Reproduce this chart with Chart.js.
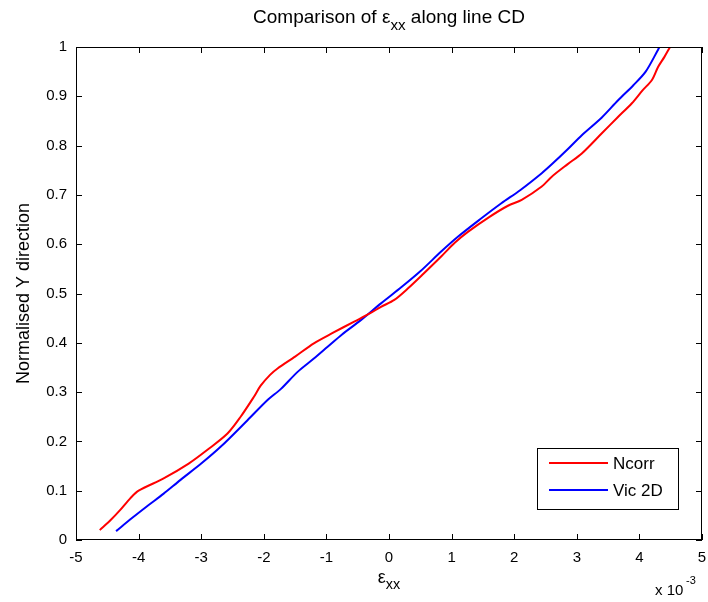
<!DOCTYPE html>
<html>
<head>
<meta charset="utf-8">
<script src="https://cdn.jsdelivr.net/npm/chart.js@4.4.0/dist/chart.umd.min.js"></script>
<style>
  body { margin: 0; background: #fff; }
  canvas { display: block; }
</style>
</head>
<body>
<canvas id="strainChart" width="708" height="602"></canvas>
<script>
// strain values are in units of 1e-3
const ncorrX = [-4.62, -4.45, -4.3, -4.13, -4.0, -3.6, -3.2, -2.9, -2.58, -2.37, -2.16, -2.05, -1.9, -1.78, -1.5, -1.2, -0.9, -0.556, -0.3, -0.128, 0.085, 0.3, 0.55, 0.833, 1.05, 1.26, 1.6, 1.9, 2.12, 2.44, 2.6, 2.85, 3.08, 3.4, 3.65, 3.88, 4.05, 4.2, 4.3, 4.4, 4.49];
const ncorrY = [0.02, 0.04, 0.06, 0.085, 0.1, 0.125, 0.155, 0.183, 0.216, 0.25, 0.29, 0.313, 0.335, 0.348, 0.372, 0.399, 0.42, 0.443, 0.46, 0.473, 0.487, 0.51, 0.54, 0.575, 0.603, 0.625, 0.655, 0.678, 0.69, 0.717, 0.737, 0.762, 0.784, 0.825, 0.857, 0.886, 0.912, 0.933, 0.96, 0.98, 1.0];

const vicX = [-4.36, -4.1, -3.87, -3.6, -3.33, -3.0, -2.69, -2.26, -1.94, -1.73, -1.46, -1.2, -0.98, -0.75, -0.45, -0.128, 0.2, 0.5, 0.833, 1.1, 1.45, 1.795, 2.1, 2.44, 2.6, 2.85, 3.08, 3.4, 3.66, 3.9, 4.1, 4.3, 4.32];
const vicY = [0.018, 0.045, 0.068, 0.094, 0.122, 0.155, 0.189, 0.243, 0.284, 0.306, 0.341, 0.368, 0.392, 0.417, 0.446, 0.48, 0.513, 0.545, 0.585, 0.615, 0.65, 0.683, 0.71, 0.744, 0.762, 0.792, 0.821, 0.857, 0.892, 0.922, 0.95, 0.995, 1.0];

const xTicks = [-5, -4, -3, -2, -1, 0, 1, 2, 3, 4, 5];
const yTicks = [0, 0.1, 0.2, 0.3, 0.4, 0.5, 0.6, 0.7, 0.8, 0.9, 1];
const seriesNames = ["Ncorr", "Vic 2D"];
const seriesColors = ["#ff0000", "#0000ff"];

const FONT = "'Liberation Sans', Arial, sans-serif";

function toPoints(xs, ys) {
  return xs.map((x, i) => ({ x: x, y: ys[i] }));
}

// text with a subscript part, e.g. ε + "xx"
function drawSubText(ctx, parts, cx, cy, size) {
  ctx.save();
  let total = 0;
  parts.forEach((p) => {
    ctx.font = (p.sub ? size * 0.8 : size) + "px " + FONT;
    total += ctx.measureText(p.t).width;
  });
  let x = cx - total / 2;
  ctx.textAlign = "left";
  ctx.textBaseline = "alphabetic";
  parts.forEach((p) => {
    ctx.font = (p.sub ? size * 0.8 : size) + "px " + FONT;
    ctx.fillText(p.t, x, cy + (p.sub ? size * 0.35 : 0));
    x += ctx.measureText(p.t).width;
  });
  ctx.restore();
}

const matlabFrame = {
  id: "matlabFrame",
  afterDraw(chart) {
    const ctx = chart.ctx;
    const a = chart.chartArea;
    const xs = chart.scales.x;
    const ys = chart.scales.y;
    ctx.save();
    ctx.strokeStyle = "#000";
    ctx.lineWidth = 1;
    ctx.strokeRect(a.left + 0.5, a.top + 0.5, a.right - a.left - 1, a.bottom - a.top - 1);

    // inward tick marks on all four sides
    ctx.beginPath();
    xTicks.forEach((v) => {
      const px = Math.round(xs.getPixelForValue(v)) + 0.5;
      ctx.moveTo(px, a.bottom);
      ctx.lineTo(px, a.bottom - 6);
      ctx.moveTo(px, a.top);
      ctx.lineTo(px, a.top + 6);
    });
    yTicks.forEach((v) => {
      const py = Math.round(ys.getPixelForValue(v)) + 0.5;
      ctx.moveTo(a.left, py);
      ctx.lineTo(a.left + 6, py);
      ctx.moveTo(a.right, py);
      ctx.lineTo(a.right - 6, py);
    });
    ctx.stroke();

    // title and axis labels
    ctx.fillStyle = "#000";
    const cx = (a.left + a.right) / 2;
    drawSubText(ctx, [{ t: "Comparison of ε" }, { t: "xx", sub: true }, { t: " along line CD" }], cx, 23, 19);
    drawSubText(ctx, [{ t: "ε" }, { t: "xx", sub: true }], cx, 583, 18);

    ctx.font = "15px " + FONT;
    ctx.textAlign = "left";
    ctx.fillText("x 10", 655, 595);
    ctx.font = "11px " + FONT;
    ctx.fillText("-3", 686, 584);

    ctx.save();
    ctx.translate(29, (a.top + a.bottom) / 2);
    ctx.rotate(-Math.PI / 2);
    ctx.font = "18px " + FONT;
    ctx.textAlign = "center";
    ctx.fillText("Normalised Y direction", 0, 0);
    ctx.restore();

    // legend box
    const lx = 537, ly = 448, lw = 141, lh = 61;
    ctx.fillStyle = "#fff";
    ctx.fillRect(lx, ly, lw, lh);
    ctx.strokeStyle = "#000";
    ctx.strokeRect(lx + 0.5, ly + 0.5, lw, lh);
    seriesNames.forEach((name, i) => {
      const yy = ly + 15 + i * 27;
      ctx.strokeStyle = seriesColors[i];
      ctx.lineWidth = 2;
      ctx.beginPath();
      ctx.moveTo(549, yy);
      ctx.lineTo(608, yy);
      ctx.stroke();
      ctx.fillStyle = "#000";
      ctx.font = "17px " + FONT;
      ctx.textAlign = "left";
      ctx.textBaseline = "middle";
      ctx.fillText(name, 613, yy + 1);
    });
    ctx.restore();
  },
};

function noEdgePad(s) {
  s.paddingLeft = 0;
  s.paddingRight = 0;
  s.paddingTop = 0;
  s.paddingBottom = 0;
}

new Chart(document.getElementById("strainChart"), {
  type: "scatter",
  data: {
    datasets: [
      {
        label: seriesNames[0],
        data: toPoints(ncorrX, ncorrY),
        showLine: true,
        borderColor: seriesColors[0],
        borderWidth: 2,
        pointRadius: 0,
        tension: 0.3,
      },
      {
        label: seriesNames[1],
        data: toPoints(vicX, vicY),
        showLine: true,
        borderColor: seriesColors[1],
        borderWidth: 2,
        pointRadius: 0,
        tension: 0.3,
      },
    ],
  },
  options: {
    responsive: false,
    animation: false,
    layout: { padding: { top: 47, right: 6, left: 0, bottom: 0 } },
    plugins: { legend: { display: false }, tooltip: { enabled: false } },
    scales: {
      x: {
        type: "linear",
        min: -5,
        max: 5,
        afterFit: (s) => { s.height = 62; noEdgePad(s); },
        afterBuildTicks: (s) => { s.ticks = xTicks.map((v) => ({ value: v })); },
        grid: { display: false, drawTicks: false },
        border: { display: false },
        ticks: {
          padding: 9,
          color: "#000",
          font: { family: FONT, size: 15 },
          callback: (v) => String(v),
        },
      },
      y: {
        type: "linear",
        min: 0,
        max: 1,
        afterFit: (s) => { s.width = 76; noEdgePad(s); },
        afterBuildTicks: (s) => { s.ticks = yTicks.map((v) => ({ value: v })); },
        grid: { display: false, drawTicks: false },
        border: { display: false },
        ticks: {
          padding: 9,
          color: "#000",
          font: { family: FONT, size: 15 },
          callback: (v) => (v === 0 || v === 1 ? String(v) : v.toFixed(1)),
        },
      },
    },
  },
  plugins: [matlabFrame],
});
</script>
</body>
</html>
